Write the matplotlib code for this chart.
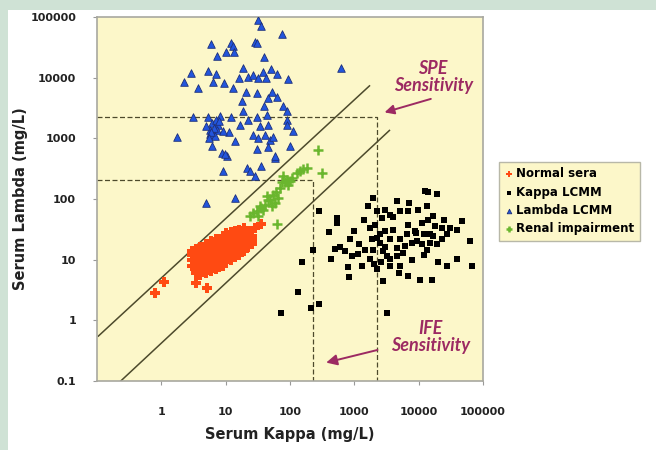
import numpy as np
import matplotlib
matplotlib.use("Agg")
from matplotlib import pyplot as plt
from matplotlib.patches import Rectangle

# Normal sera (dense cluster + a few stragglers)
normal_kappa = [3, 3, 3, 3,
                3.5, 3.5, 3.5, 3.5, 3.5, 3.5,
                4, 4, 4, 4, 4, 4, 4,
                5, 5, 5, 5, 5, 5, 5, 5, 5, 5,
                6, 6, 6, 6, 6, 6, 6, 6, 6, 6,
                7, 7, 7, 7, 7, 7, 7, 7, 7, 7, 7,
                8, 8, 8, 8, 8, 8, 8, 8, 8, 8,
                9, 9, 9, 9, 9, 9, 9, 9, 9, 9,
                10, 10, 10, 10, 10, 10, 10, 10, 10, 10,
                12, 12, 12, 12, 12, 12, 12, 12, 12,
                14, 14, 14, 14, 14, 14, 14, 14,
                16, 16, 16, 16, 16, 16, 16,
                19, 19, 19, 19, 19, 19,
                22, 22, 22, 22, 22,
                26, 26, 26,
                1.1, 0.8, 5.2, 3.5, 28.6, 36]
normal_lambda = [8, 10, 12, 14,
                 6, 7, 9, 11, 13, 15,
                 5.5, 7, 8, 10, 12, 14, 16,
                 6, 7, 8, 9, 10, 11, 12, 14, 16, 18,
                 6.5, 7.5, 8.5, 9.5, 11, 12.5, 14, 16, 18, 20,
                 7, 8, 9, 10, 11, 12, 13, 15, 17, 19, 22,
                 7.5, 8.5, 9.5, 10.5, 12, 13.5, 15, 17, 19, 22,
                 8, 9, 10, 11.5, 13, 14.5, 16, 18, 21, 24,
                 9, 10, 11, 12.5, 14, 16, 18, 20, 23, 27,
                 10, 11.5, 13, 15, 17, 19, 22, 25, 29,
                 11, 13, 15, 17, 19, 22, 25, 30,
                 12, 14, 16, 19, 22, 26, 31,
                 14, 17, 20, 23, 27, 33,
                 16, 19, 22, 26, 30,
                 18, 21, 25,
                 4.3, 2.8, 3.4, 4.2, 33, 39]

# Kappa LCMM
kappa_kappa = [287, 534, 546, 410, 231, 152, 431, 135, 210, 287, 839, 809, 502, 601,
               719, 915, 861, 1160, 1470, 1660, 1980, 2290, 2680, 3010, 3600, 4680,
               5150, 6930, 9930, 12600, 19200, 13400, 17000, 24900, 47000, 63200,
               67100, 39300, 27500, 16000, 10500, 6930, 5150, 3600, 3200, 2240, 73,
               1760, 1980, 1870, 2240, 2520, 2840, 3200, 3600, 4580, 5800, 4580, 6160,
               7830, 9370, 11200, 13400, 15100, 17000, 19200, 23000, 27500, 30900,
               39300, 1760, 2100, 3010, 4060, 6930, 11200, 14200, 18100, 23000, 11900,
               15100, 8820, 6550, 5150, 3600, 2520, 13800, 1400, 1000, 2000, 2600,
               8000, 12000, 9000, 4000, 7000, 1200, 3000, 20000, 5000, 1300, 2800]
kappa_lambda = [64.5, 48.9, 40.4, 28.3, 14.3, 9.1, 10.4, 2.9, 1.62, 1.83, 5.2, 7.6, 15.1,
                16.3, 13.8, 11.4, 21.5, 12.2, 14.7, 75.8, 104, 62.8, 48.9, 67, 55.4, 91.6,
                62.8, 62.8, 67, 134, 123, 75.8, 51.9, 45.8, 43, 20.2, 8.0, 10.1, 7.8, 4.7,
                4.7, 5.4, 7.8, 7.8, 1.34, 6.9, 1.30, 10.1, 14.7, 21.5, 22.9, 19, 13.8,
                11.4, 10.1, 11.4, 13, 15.7, 16.7, 19, 20.2, 17.8, 14.7, 19, 24.4, 17.8,
                21.5, 26, 33.5, 31.4, 33.5, 37.9, 29.5, 31.4, 37.9, 40.4, 45.8, 35.6,
                33.5, 26, 26, 29.5, 26, 21.5, 21.5, 26, 129, 45, 30, 8.5, 9, 10, 12,
                28, 50, 85, 18, 16, 9, 6, 8, 4.5]

# Lambda LCMM
lambda_kappa = [32.3, 35.2, 74.5, 5.9, 12.0, 13.2, 10.1, 13.5, 28.6, 30.5, 7.43, 40,
                2.86, 5.38, 7.1, 2.25, 3.76, 6.3, 9.4, 12.9, 16.0, 18.8, 22.5, 27.0,
                32.3, 38.6, 42.5, 50.8, 63.7, 94.4, 20.7, 30.5, 52.1, 46.1, 62.3, 17.8,
                39.5, 77.3, 89.1, 18.8, 30.5, 43.5, 3.15, 5.38, 8.2, 12.0, 6.08, 7.7,
                5.72, 7.27, 22.5, 16.7, 34.3, 46.1, 89.1, 89.1, 11.4, 113, 1.74, 5.72,
                6.84, 14.0, 6.08, 8.7, 10.4, 27.0, 32.3, 41, 49, 55.2, 30.5, 46.1, 58.7,
                100, 35.2, 21.3, 23.9, 28.6, 9.0, 4.96, 14.0, 9.8, 58.7, 616,
                6.5, 5, 7, 6, 8, 5.5, 9]
lambda_lambda = [89300, 71100, 52500, 35500, 36900, 33400, 26900, 26600, 39300, 36900,
                 22800, 22300, 12100, 13100, 11600, 8620, 6870, 8620, 8310, 6720, 9820,
                 14300, 10400, 11100, 9820, 12600, 9820, 13800, 11600, 9560, 5910, 5560,
                 5910, 4600, 4780, 4050, 3350, 3350, 2770, 2770, 2240, 2440, 2240, 2290,
                 2350, 2240, 1790, 1670, 1380, 1380, 2020, 1670, 1570, 1670, 2020, 1670,
                 1250, 1300, 1070, 1190, 1100, 889, 736, 573, 518, 1150, 1010, 1150, 949,
                 1070, 667, 719, 474, 755, 354, 325, 286, 236, 286, 86.3, 104, 558, 504,
                 14300, 1500, 1600, 2000, 1250, 1900, 1000, 1300]

# Renal impairment
renal_kappa = [277, 313, 161, 144, 128, 182, 89, 74.5, 94, 107, 79, 55, 49, 43.5, 66,
               58.6, 41, 52, 34.3, 30.5, 38.5, 27, 32.3, 23.9, 62, 45, 60, 85, 100, 36, 70]
renal_lambda = [649, 269, 313, 286, 269, 325, 208, 188, 173, 222, 236, 118, 98, 111, 104,
                86, 81, 76, 76, 63, 67, 59, 52, 52, 38, 95, 130, 190, 200, 70, 150]

# reference lines
upper_line_k = [0.105, 1720]
upper_line_l = [0.55, 7330]
lower_line_k = [0.234, 3515]
lower_line_l = [0.1, 1350]
spe_kappa, spe_lambda = 2240, 2240
ife_kappa, ife_lambda = 226, 205

x_ticks = [1, 10, 100, 1000, 10000, 100000]
y_ticks = [0.1, 1, 10, 100, 1000, 10000, 100000]

fig = plt.figure(figsize=(6.56, 4.5), dpi=100)
fig.patch.set_facecolor('#cfe2d5')
fig.patches.append(Rectangle((8 / 656, 0), 1, 1 - 10 / 450, transform=fig.transFigure,
                             facecolor='white', edgecolor='none', zorder=-10))

ax = fig.add_axes([97 / 656, 1 - 381 / 450, 386 / 656, 364 / 450])
ax.set_facecolor('#fcf7c9')
ax.set_xscale('log')
ax.set_yscale('log')
ax.set_xlim(0.1, 100000)
ax.set_ylim(0.1, 100000)

line_col = '#4d4a2c'
ax.plot(upper_line_k, upper_line_l, color=line_col, lw=1.1, zorder=2)
ax.plot(lower_line_k, lower_line_l, color=line_col, lw=1.1, zorder=2)
ax.plot([0.1, spe_kappa, spe_kappa], [spe_lambda, spe_lambda, 0.1], color=line_col,
        lw=0.9, ls=(0, (4, 2)), zorder=2)
ax.plot([0.1, ife_kappa, ife_kappa], [ife_lambda, ife_lambda, 0.1], color=line_col,
        lw=0.9, ls=(0, (4, 2)), zorder=2)

ax.scatter(normal_kappa, normal_lambda, marker='P', s=60, color='#ff4a12',
           linewidths=0, zorder=3, label='Normal sera')
ax.scatter(kappa_kappa, kappa_lambda, marker='s', s=24, color='black',
           linewidths=0, zorder=3, label='Kappa LCMM')
ax.scatter(lambda_kappa, lambda_lambda, marker='^', s=30, facecolor='#2255dd',
           edgecolor='#1c2f7a', linewidths=0.6, zorder=3, label='Lambda LCMM')
ax.scatter(renal_kappa, renal_lambda, marker='+', s=50, color='#6ab62e',
           linewidths=1.8, zorder=3, label='Renal impairment')

ax.set_xticks(x_ticks)
ax.set_xticklabels([str(v) for v in x_ticks])
ax.set_yticks(y_ticks)
ax.set_yticklabels(['0.1', '1', '10', '100', '1000', '10000', '100000'])
ax.minorticks_off()
ax.tick_params(axis='x', length=3, color='#999999', pad=16, labelsize=8,
               labelcolor='#222222')
ax.tick_params(axis='y', length=3, color='#999999', pad=12, labelsize=8,
               labelcolor='#222222')
for lab in ax.get_xticklabels() + ax.get_yticklabels():
    lab.set_fontweight('bold')
for sp in ax.spines.values():
    sp.set_color('#a8a8a0')
    sp.set_linewidth(1.2)

ax.set_xlabel('Serum Kappa (mg/L)', fontsize=10.5, fontweight='bold', labelpad=7,
              color='#222222')
ax.set_ylabel('Serum Lambda (mg/L)', fontsize=10.5, fontweight='bold', labelpad=2,
              color='#222222')

ann_col = '#9c2a62'
ax.text(16800, 10300, 'SPE\nSensitivity', ha='center', va='center', fontsize=13,
        fontweight='bold', fontstyle='italic', family='Lato', color=ann_col,
        linespacing=1.0)
ax.annotate('', xy=(2680, 2600), xytext=(17000, 4600),
            arrowprops=dict(arrowstyle='-|>', color=ann_col, lw=1.4, mutation_scale=14))
ax.text(15100, 0.525, 'IFE\nSensitivity', ha='center', va='center', fontsize=13,
        fontweight='bold', fontstyle='italic', family='Lato', color=ann_col,
        linespacing=1.0)
ax.annotate('', xy=(331, 0.196), xytext=(2520, 0.333),
            arrowprops=dict(arrowstyle='-|>', color=ann_col, lw=1.4, mutation_scale=16))

leg = ax.legend(loc='upper left', bbox_to_anchor=(499 / 656, 1 - 162 / 450),
                bbox_transform=fig.transFigure, frameon=True, fancybox=False,
                borderaxespad=0, prop={'weight': 'bold', 'size': 8.5},
                handletextpad=0.2, handlelength=0.8, borderpad=0.45,
                labelspacing=0.45, markerscale=0.6)
leg.get_frame().set_facecolor('#fcf7c9')
leg.get_frame().set_edgecolor('#b8b8a8')
leg.get_frame().set_alpha(1)

fig.savefig('out.png', dpi=100, facecolor=fig.get_facecolor())
